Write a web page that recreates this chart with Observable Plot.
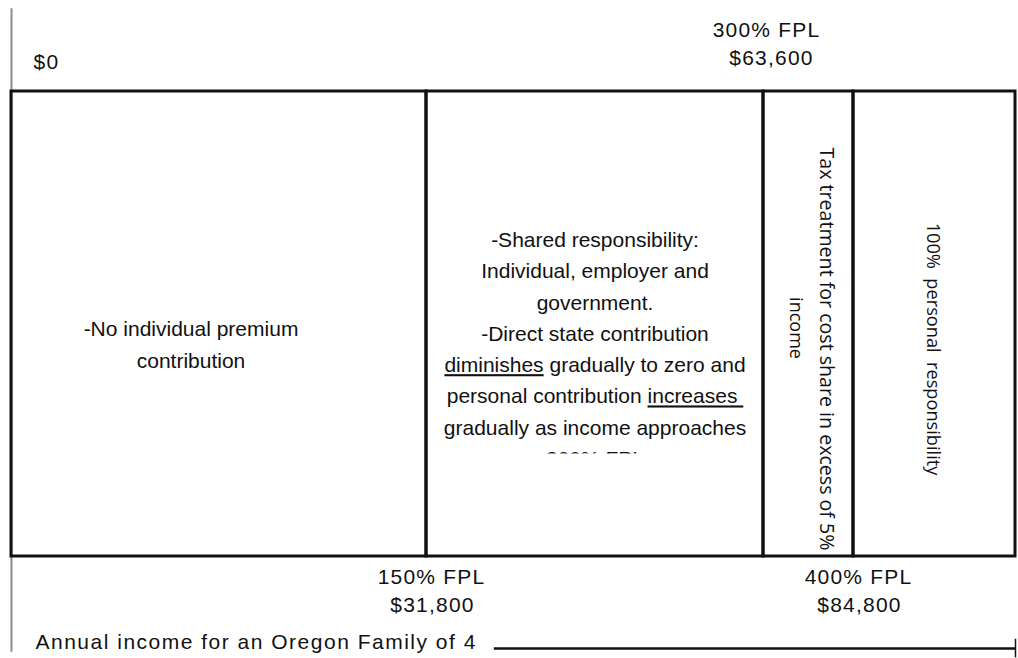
<!DOCTYPE html>
<html>
<head>
<meta charset="utf-8">
<script src="https://cdn.jsdelivr.net/npm/d3@7"></script>
<script src="https://cdn.jsdelivr.net/npm/@observablehq/plot@0.6"></script>
<style>
  html, body { margin: 0; padding: 0; background: #fff; }
  #chart svg { display: block; }
</style>
</head>
<body>
<div id="chart"></div>
<script>
// ---- Data -------------------------------------------------------------
// Income thresholds (annual income, Oregon family of 4)
const fplLevels   = ["150% FPL", "300% FPL", "400% FPL"];
const fplIncomes  = [31800, 63600, 84800];
const fplDollars  = ["$31,800", "$63,600", "$84,800"];
const fplSide     = ["bottom", "top", "bottom"];
const startIncome = 0;
const startLabel  = "$0";
const openEndIncome = 120000;   // open-ended right edge of the diagram

// Zones of responsibility
const zoneStart = [0, 31800, 63600, 84800];
const zoneEnd   = [31800, 63600, 84800, 120000];
const zoneText  = [
  "-No individual premium\ncontribution",
  "-Shared responsibility:\nIndividual, employer and\ngovernment.\n-Direct state contribution\ndiminishes gradually to zero and\npersonal contribution increases\u00A0\ngradually as income approaches\n300% FPL",
  "Tax treatment for cost share in excess of 5%",
  "100%  personal  responsibility"
];
const zoneTextLine2 = ["", "", "income", ""];
const underlinedWords = ["diminishes", "increases\u00A0"];
const axisTitle = "Annual income for an Oregon Family of 4";

// ---- Tables built from the arrays ------------------------------------
const zones = zoneStart.map((s, i) => ({start: s, end: zoneEnd[i], text: zoneText[i], text2: zoneTextLine2[i], mid: (s + zoneEnd[i]) / 2}));
const fpl = fplLevels.map((l, i) => ({level: l, income: fplIncomes[i], dollars: fplDollars[i], side: fplSide[i]}));
const topFpl = fpl.filter(d => d.side === "top");
const bottomFpl = fpl.filter(d => d.side === "bottom");

const sans = "'Liberation Sans', Arial, sans-serif";
const rotFont = "'Open Sans', 'Noto Sans', sans-serif";
const tag = (name) => () => name;   // per-element aria-label used to find texts afterwards

const chart = Plot.plot({
  width: 1018,
  height: 658,
  margin: 0,
  x: {type: "linear", domain: [0, 31800, 63600, 84800, 120000], range: [11, 426, 763, 853, 1015], axis: null},
  y: {domain: [0, 1], range: [556, 91], axis: null},
  style: {fontFamily: sans, background: "#fff", color: "#111", overflow: "visible"},
  marks: [
    // gray vertical guide at $0
    Plot.ruleX([startIncome], {y1: 1.178, y2: -0.206, stroke: "#8c8c8c", strokeWidth: 2}),
    // zone boxes
    Plot.rect(zones, {x1: "start", x2: "end", y1: 0, y2: 1, fill: "none", stroke: "#111", strokeWidth: 3}),
    // zone texts
    Plot.text([zones[0]], {x: "mid", y: 0.5, text: "text", dx: -28, dy: 18, fontSize: 21, lineHeight: 1.52, fill: "#111"}),
    Plot.text([zones[1]], {x: "mid", y: 0.5, text: "text", dy: 22.5, fontSize: 21, lineHeight: 1.49, fill: "#111", ariaLabel: tag("zone-shared")}),
    Plot.text([zones[2]], {x: "mid", y: 0.5, text: "text", rotate: 90, dx: 18, dy: 25, fontSize: 19.6, fontFamily: rotFont, fill: "#111"}),
    Plot.text([zones[2]], {x: "mid", y: 0.5, text: "text2", rotate: 90, dx: -13, dy: 4, fontSize: 18, fontFamily: rotFont, fill: "#111"}),
    Plot.text([zones[3]], {x: "mid", y: 0.5, text: "text", rotate: 90, dx: -2, dy: 25, fontSize: 18.2, fontFamily: rotFont, fill: "#111"}),
    // threshold labels
    Plot.text([startIncome], {x: d => d, text: [startLabel], frameAnchor: "top", lineAnchor: "middle", dy: 62, dx: 22, textAnchor: "start", fontSize: 21, fill: "#111", ariaLabel: tag("label")}),
    Plot.text(topFpl, {x: "income", text: "level", frameAnchor: "top", lineAnchor: "middle", dy: 30, dx: 3, fontSize: 21, fill: "#111", ariaLabel: tag("label")}),
    Plot.text(topFpl, {x: "income", text: "dollars", frameAnchor: "top", lineAnchor: "middle", dy: 58, dx: 8, fontSize: 21, fill: "#111", ariaLabel: tag("label")}),
    Plot.text(bottomFpl, {x: "income", text: "level", frameAnchor: "top", lineAnchor: "middle", dy: 577, dx: 5, fontSize: 21, fill: "#111", ariaLabel: tag("label")}),
    Plot.text(bottomFpl, {x: "income", text: "dollars", frameAnchor: "top", lineAnchor: "middle", dy: 605, dx: 6, fontSize: 21, fill: "#111", ariaLabel: tag("label")}),
    // axis title + arrow line
    Plot.text([startIncome], {x: d => d, text: [axisTitle], frameAnchor: "top", lineAnchor: "middle", dy: 642, dx: 24, textAnchor: "start", fontSize: 21, fill: "#111", ariaLabel: tag("axis-title")}),
    Plot.ruleY([-0.198], {x1: 38200, x2: openEndIncome, stroke: "#111", strokeWidth: 2.5}),
    Plot.ruleX([openEndIncome], {y1: -0.178, y2: -0.218, stroke: "#111", strokeWidth: 1.5})
  ]
});

document.getElementById("chart").appendChild(chart);

const svg = d3.select(chart);
// PDF-like letter spacing of the original labels
svg.selectAll('text[aria-label="label"]').style("letter-spacing", "1.2px");
svg.selectAll('text[aria-label="axis-title"]').style("letter-spacing", "1.5px");

// underline the key words
svg.selectAll('text[aria-label="zone-shared"] tspan').each(function() {
  const t = this.textContent;
  const w = underlinedWords.find(w => t.includes(w));
  if (!w) return;
  const k = t.indexOf(w);
  const before = t.slice(0, k), after = t.slice(k + w.length);
  const sel = d3.select(this);
  sel.text(null);
  if (before) sel.append(() => document.createTextNode(before));
  sel.append("tspan").text(w)
    .style("text-decoration", "underline")
    .style("text-decoration-thickness", "2px")
    .style("text-underline-offset", "5px");
  if (after) sel.append(() => document.createTextNode(after));
});

// the text box of the middle zone is clipped (its last line is cut off):
// wrap the mark's group in an untransformed group carrying the clip
const xs = chart.scale("x");
const defs = svg.insert("defs", ":first-child");
defs.append("clipPath").attr("id", "clip-shared").append("rect")
  .attr("x", xs.apply(31800)).attr("y", 91)
  .attr("width", xs.apply(63600) - xs.apply(31800)).attr("height", 453.5 - 91);
const sharedText = chart.querySelector('text[aria-label="zone-shared"]');
if (sharedText) {
  const markGroup = sharedText.parentNode;
  const wrapper = document.createElementNS("http://www.w3.org/2000/svg", "g");
  wrapper.setAttribute("clip-path", "url(#clip-shared)");
  markGroup.parentNode.insertBefore(wrapper, markGroup);
  wrapper.appendChild(markGroup);
}
</script>
</body>
</html>
